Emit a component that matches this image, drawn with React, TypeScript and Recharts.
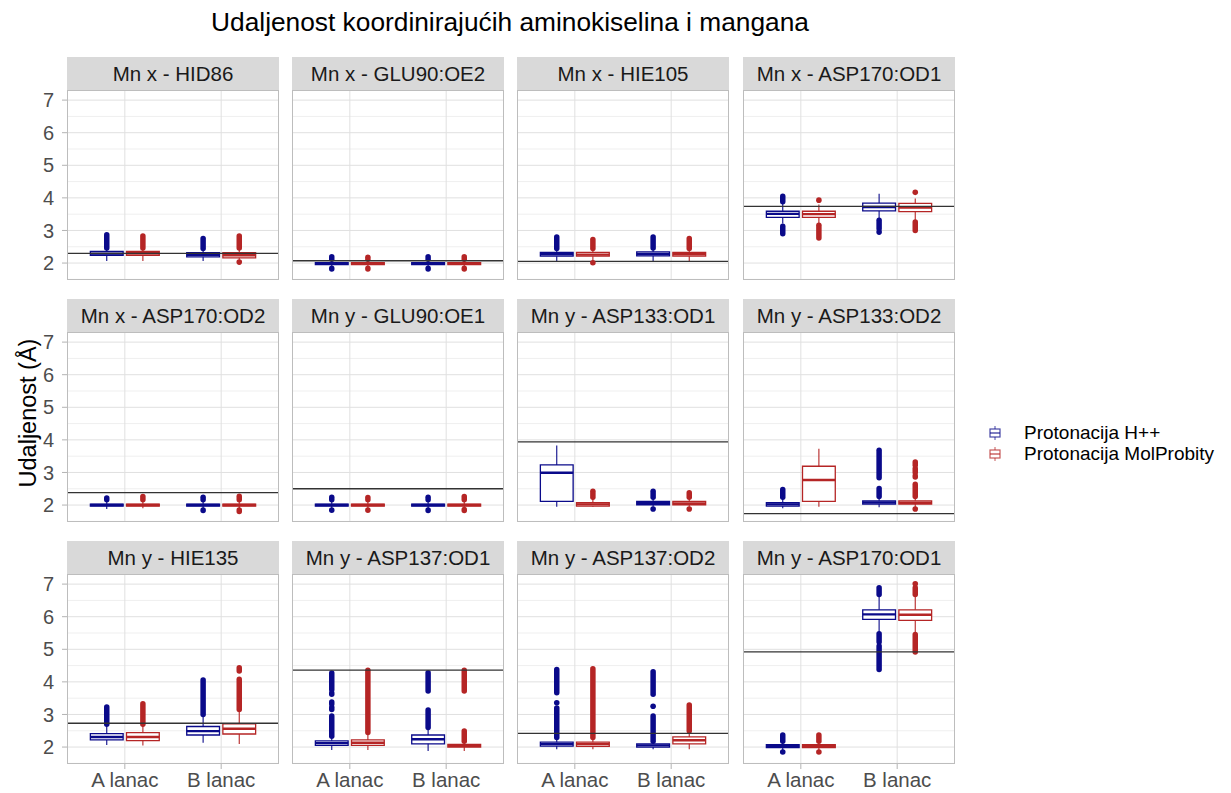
import React from "react";
import {
  ComposedChart,
  XAxis,
  YAxis,
  CartesianGrid,
  ReferenceArea,
  ReferenceLine,
  Scatter,
} from "recharts";

const FONT = '"Liberation Sans", Arial, Helvetica, sans-serif';

// ---------- data ----------
const chartTitle = "Udaljenost koordinirajućih aminokiselina i mangana";
const yAxisTitle = "Udaljenost (Å)";
const facetTitles = [
  "Mn x - HID86",
  "Mn x - GLU90:OE2",
  "Mn x - HIE105",
  "Mn x - ASP170:OD1",
  "Mn x - ASP170:OD2",
  "Mn y - GLU90:OE1",
  "Mn y - ASP133:OD1",
  "Mn y - ASP133:OD2",
  "Mn y - HIE135",
  "Mn y - ASP137:OD1",
  "Mn y - ASP137:OD2",
  "Mn y - ASP170:OD1",
];
const chains = ["A lanac", "B lanac"];
const referenceValues = [2.3, 2.07, 2.05, 3.74, 2.38, 2.5, 3.94, 1.74, 2.73, 4.36, 2.42, 4.92];
const yTicks = [2, 3, 4, 5, 6, 7];
const yMinorTicks = [1.5, 2.5, 3.5, 4.5, 5.5, 6.5];
const yDomain: [number, number] = [1.48, 7.31];
const xDomain: [number, number] = [0.4, 2.6];

type Box = [number, number, number, number, number]; // lower whisker, q1, median, q3, upper whisker
type Seg = [number, number]; // outlier run from..to

// Protonacija H++ , chain A
const hppA: Box[] = [
  [2.06, 2.24, 2.29, 2.36, 2.43],
  [1.87, 1.95, 1.98, 2.01, 2.1],
  [2.06, 2.21, 2.27, 2.33, 2.42],
  [3.21, 3.4, 3.51, 3.59, 3.83],
  [1.88, 1.97, 2.0, 2.03, 2.14],
  [1.88, 1.97, 2.0, 2.03, 2.14],
  [1.95, 2.11, 2.99, 3.23, 3.83],
  [1.9, 1.97, 2.02, 2.07, 2.2],
  [2.06, 2.22, 2.31, 2.41, 2.64],
  [1.91, 2.05, 2.12, 2.19, 2.3],
  [1.93, 2.03, 2.09, 2.15, 2.26],
  [1.9, 1.98, 2.03, 2.07, 2.15],
];
// Protonacija H++ , chain B
const hppB: Box[] = [
  [2.06, 2.19, 2.25, 2.32, 2.42],
  [1.87, 1.95, 1.98, 2.01, 2.1],
  [2.06, 2.22, 2.28, 2.34, 2.43],
  [3.37, 3.6, 3.72, 3.84, 4.13],
  [1.88, 1.97, 2.0, 2.03, 2.14],
  [1.88, 1.97, 2.0, 2.03, 2.14],
  [1.95, 2.01, 2.06, 2.11, 2.2],
  [1.93, 2.03, 2.08, 2.13, 2.22],
  [2.13, 2.37, 2.49, 2.63, 2.95],
  [1.88, 2.1, 2.24, 2.37, 2.56],
  [1.93, 2.0, 2.05, 2.1, 2.16],
  [5.54, 5.92, 6.07, 6.21, 6.63],
];
// Protonacija MolProbity , chain A
const molA: Box[] = [
  [2.06, 2.24, 2.3, 2.36, 2.43],
  [1.87, 1.95, 1.98, 2.01, 2.1],
  [2.06, 2.21, 2.26, 2.33, 2.42],
  [3.21, 3.4, 3.5, 3.59, 3.8],
  [1.9, 1.97, 2.0, 2.03, 2.14],
  [1.88, 1.97, 2.0, 2.03, 2.14],
  [1.95, 1.97, 2.02, 2.07, 2.2],
  [1.95, 2.11, 2.77, 3.19, 3.73],
  [2.05, 2.2, 2.31, 2.44, 2.66],
  [1.91, 2.05, 2.13, 2.22, 2.4],
  [1.93, 2.02, 2.09, 2.15, 2.26],
  [1.9, 1.98, 2.03, 2.07, 2.15],
];
// Protonacija MolProbity , chain B
const molB: Box[] = [
  [2.1, 2.16, 2.24, 2.32, 2.43],
  [1.87, 1.95, 1.98, 2.01, 2.1],
  [2.06, 2.21, 2.27, 2.33, 2.42],
  [3.31, 3.58, 3.7, 3.83, 3.98],
  [1.88, 1.97, 2.0, 2.03, 2.14],
  [1.88, 1.97, 2.0, 2.03, 2.14],
  [1.95, 2.01, 2.05, 2.11, 2.2],
  [1.9, 2.03, 2.07, 2.13, 2.22],
  [2.09, 2.4, 2.56, 2.71, 3.1],
  [1.88, 2.0, 2.04, 2.08, 2.15],
  [1.93, 2.1, 2.21, 2.31, 2.44],
  [5.49, 5.89, 6.06, 6.21, 6.63],
];

const hppAOut: Seg[][] = [
  [[2.46, 2.87]],
  [[2.12, 2.19], [1.82, 1.84]],
  [[2.45, 2.8]],
  [[3.88, 4.05], [2.9, 3.13]],
  [[2.16, 2.22]],
  [[2.16, 2.24], [1.84, 1.85]],
  [],
  [[2.24, 2.48]],
  [[2.7, 3.23]],
  [[2.33, 2.95], [3.15, 3.22], [3.32, 3.38], [3.62, 3.66], [3.76, 4.27]],
  [[2.29, 3.2], [3.36, 3.36], [3.67, 4.38]],
  [[2.18, 2.37], [1.85, 1.85]],
];
const hppBOut: Seg[][] = [
  [[2.45, 2.75]],
  [[2.12, 2.19], [1.82, 1.84]],
  [[2.46, 2.8]],
  [[3.05, 3.31], [2.95, 2.95]],
  [[2.16, 2.24], [1.83, 1.85]],
  [[2.16, 2.24], [1.83, 1.85]],
  [[2.24, 2.42], [1.88, 1.88]],
  [[2.26, 2.51], [2.84, 3.68]],
  [[3.0, 4.06]],
  [[2.6, 3.14], [3.72, 4.28]],
  [[2.18, 2.95], [3.25, 3.25], [3.62, 4.31]],
  [[6.68, 6.89], [5.22, 5.48], [4.38, 5.1]],
];
const molAOut: Seg[][] = [
  [[2.46, 2.83]],
  [[2.12, 2.18], [1.82, 1.84]],
  [[2.45, 2.72], [2.01, 2.01]],
  [[3.93, 3.93], [2.77, 3.16]],
  [[2.16, 2.26]],
  [[2.16, 2.23], [1.84, 1.85]],
  [[2.24, 2.42]],
  [],
  [[2.7, 3.33]],
  [[2.45, 4.36]],
  [[2.29, 4.4]],
  [[2.18, 2.37], [1.85, 1.85]],
];
const molBOut: Seg[][] = [
  [[2.46, 2.83], [2.03, 2.03]],
  [[2.12, 2.19], [1.82, 1.84]],
  [[2.45, 2.75]],
  [[4.17, 4.17], [3.0, 3.26]],
  [[2.16, 2.27], [1.8, 1.85]],
  [[2.16, 2.26], [1.83, 1.86]],
  [[2.24, 2.38], [1.88, 1.88]],
  [[2.26, 2.64], [2.86, 2.9], [3.0, 3.12], [3.22, 3.32], [1.88, 1.88]],
  [[3.15, 4.08], [4.33, 4.43]],
  [[2.18, 2.49], [3.72, 4.36]],
  [[2.49, 3.29]],
  [[6.68, 6.89], [7.01, 7.01], [4.92, 5.45]],
];

const seriesDefs = [
  { name: "Protonacija H++", color: "#0a0a8a", fill: "#ffffff", boxes: [hppA, hppB], outs: [hppAOut, hppBOut], offset: -0.1875 },
  { name: "Protonacija MolProbity", color: "#b52525", fill: "#ffffff", boxes: [molA, molB], outs: [molAOut, molBOut], offset: 0.1875 },
];

// ---------- layout ----------
const COL_LEFT = [67, 292, 517, 743];
const ROW_TOP = [90, 332, 574];
const PLOT_W = 212;
const PLOT_H = 190;
const STRIP_H = 33;
const Y_AXIS_W = 40;
const X_AXIS_H = 34;
const HALF = 0.17;

function Panel({ idx }: { idx: number }) {
  const row = Math.floor(idx / 4);
  const col = idx % 4;
  const showY = col === 0;
  const showX = row === 2;
  const left = COL_LEFT[col] - (showY ? Y_AXIS_W : 0);
  const top = ROW_TOP[row];
  const width = PLOT_W + (showY ? Y_AXIS_W : 0);
  const height = PLOT_H + (showX ? X_AXIS_H : 0);

  const boxes: React.ReactNode[] = [];
  const lines: React.ReactNode[] = [];
  const scatterSets: { color: string; pts: { x: number; y: number }[] }[] = [];

  seriesDefs.forEach((s, si) => {
    const pts: { x: number; y: number }[] = [];
    [0, 1].forEach((ci) => {
      const b = s.boxes[ci][idx];
      const cx = ci + 1 + s.offset;
      const k = `${si}-${ci}`;
      lines.push(
        <ReferenceLine key={`wl${k}`} segment={[{ x: cx, y: b[0] }, { x: cx, y: b[1] }]} stroke={s.color} strokeWidth={1.1} ifOverflow="visible" />,
        <ReferenceLine key={`wh${k}`} segment={[{ x: cx, y: b[3] }, { x: cx, y: b[4] }]} stroke={s.color} strokeWidth={1.1} ifOverflow="visible" />
      );
      boxes.push(
        <ReferenceArea key={`bx${k}`} x1={cx - HALF} x2={cx + HALF} y1={b[1]} y2={b[3]} fill={s.fill} fillOpacity={1} stroke={s.color} strokeWidth={1.3} ifOverflow="visible" />
      );
      lines.push(
        <ReferenceLine key={`md${k}`} segment={[{ x: cx - HALF, y: b[2] }, { x: cx + HALF, y: b[2] }]} stroke={s.color} strokeWidth={2.4} ifOverflow="visible" />
      );
      s.outs[ci][idx].forEach((seg, oi) => {
        if (seg[0] === seg[1]) {
          pts.push({ x: cx, y: seg[0] });
        } else {
          lines.push(
            <ReferenceLine key={`o${k}-${oi}`} segment={[{ x: cx, y: seg[0] }, { x: cx, y: seg[1] }]} stroke={s.color} strokeWidth={5.5} strokeLinecap="round" ifOverflow="visible" />
          );
        }
      });
    });
    scatterSets.push({ color: s.color, pts });
  });

  return (
    <div style={{ position: "absolute", left, top, width, height }}>
      <ComposedChart width={width} height={height} margin={{ top: 0, right: 0, bottom: 0, left: 0 }} data={[]}>
        <CartesianGrid horizontalValues={yMinorTicks} vertical={false} stroke="#efefef" strokeWidth={1} />
        <CartesianGrid horizontalValues={yTicks} verticalValues={[1, 2]} stroke="#e0e0e0" strokeWidth={1} />
        <XAxis
          type="number"
          dataKey="x"
          domain={xDomain}
          ticks={[1, 2]}
          interval={0}
          allowDataOverflow
          hide={!showX}
          height={X_AXIS_H}
          axisLine={false}
          tickLine={{ stroke: "#b3b3b3" }}
          tickSize={5}
          tickMargin={3}
          tickFormatter={(v: number) => chains[Math.round(v) - 1]}
          tick={{ fontSize: 20.5, fill: "#4d4d4d", fontFamily: FONT }}
        />
        <YAxis
          type="number"
          dataKey="y"
          domain={yDomain}
          ticks={yTicks}
          interval={0}
          allowDataOverflow
          hide={!showY}
          width={Y_AXIS_W}
          axisLine={false}
          tickLine={{ stroke: "#b3b3b3" }}
          tickSize={5}
          tickMargin={8}
          tick={{ fontSize: 20, fill: "#4d4d4d", fontFamily: FONT }}
        />
        {boxes}
        {lines}
        {scatterSets.map((ss, i) => (
          <Scatter
            key={`sc${i}`}
            data={ss.pts}
            dataKey="y"
            isAnimationActive={false}
            shape={(p: any) => <circle cx={p.cx} cy={p.cy} r={2.8} fill={ss.color} />}
          />
        ))}
        <ReferenceLine y={referenceValues[idx]} stroke="#333333" strokeWidth={1.3} ifOverflow="visible" />
      </ComposedChart>
      {/* panel border */}
      <div
        style={{
          position: "absolute",
          left: showY ? Y_AXIS_W : 0,
          top: 0,
          width: PLOT_W,
          height: PLOT_H,
          border: "1px solid #bdbdbd",
          boxSizing: "border-box",
          pointerEvents: "none",
        }}
      />
      {/* strip */}
      <div
        style={{
          position: "absolute",
          left: showY ? Y_AXIS_W : 0,
          top: -STRIP_H,
          width: PLOT_W,
          height: STRIP_H,
          background: "#d9d9d9",
          color: "#1a1a1a",
          fontFamily: FONT,
          fontSize: 20.5,
          lineHeight: `${STRIP_H}px`,
          textAlign: "center",
          whiteSpace: "nowrap",
        }}
      >
        {facetTitles[idx]}
      </div>
    </div>
  );
}

function LegendGlyph({ color }: { color: string }) {
  return (
    <svg width={14} height={16} style={{ display: "block" }}>
      <line x1={7} y1={1} x2={7} y2={4} stroke={color} strokeWidth={1} opacity={0.75} />
      <line x1={7} y1={12} x2={7} y2={15} stroke={color} strokeWidth={1} opacity={0.75} />
      <rect x={2} y={4} width={10} height={8} fill="#fff" stroke={color} strokeWidth={1.2} opacity={0.75} />
      <line x1={2} y1={8} x2={12} y2={8} stroke={color} strokeWidth={1.4} opacity={0.75} />
    </svg>
  );
}

export default function App() {
  return (
    <div style={{ position: "absolute", left: 0, top: 0, width: 1231, height: 793, background: "#ffffff", overflow: "hidden", fontFamily: FONT }}>
      <svg width={1231} height={793} style={{ position: "absolute", left: 0, top: 0 }}>
        <text x={510} y={31} textAnchor="middle" fontSize={26.3} fill="#000" fontFamily={FONT}>
          {chartTitle}
        </text>
        <text x={36} y={413} textAnchor="middle" fontSize={23.5} fill="#000" fontFamily={FONT} transform="rotate(-90 36 413)">
          {yAxisTitle}
        </text>
      </svg>
      {facetTitles.map((_, i) => (
        <Panel key={i} idx={i} />
      ))}
      <div style={{ position: "absolute", left: 988, top: 422, fontFamily: FONT, fontSize: 19, color: "#000" }}>
        {seriesDefs.map((s) => (
          <div key={s.name} style={{ display: "flex", alignItems: "center", height: 21, whiteSpace: "nowrap" }}>
            <LegendGlyph color={s.color} />
            <span style={{ marginLeft: 22, lineHeight: "21px" }}>{s.name}</span>
          </div>
        ))}
      </div>
    </div>
  );
}
